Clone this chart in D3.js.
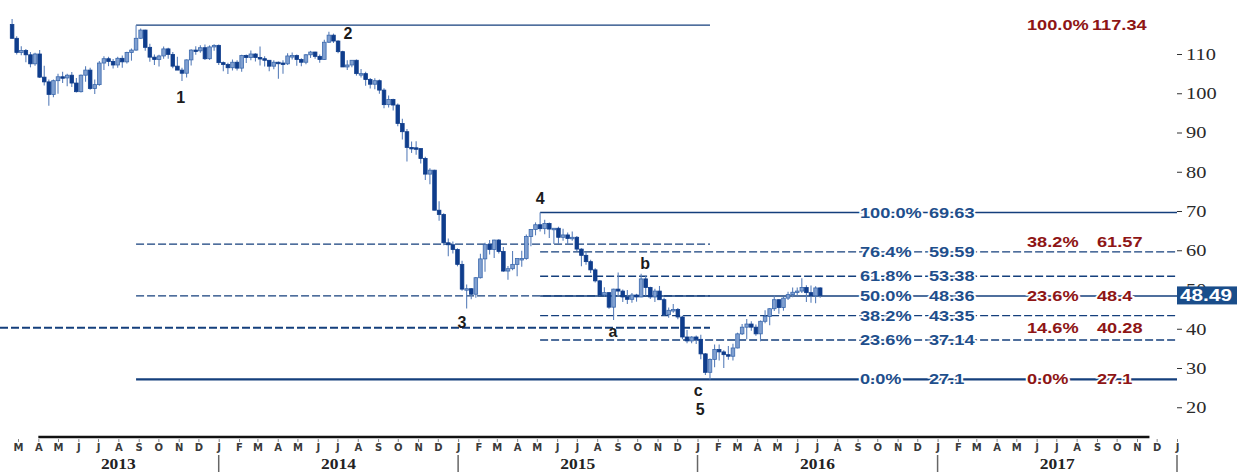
<!DOCTYPE html>
<html>
<head>
<meta charset="utf-8">
<script src="https://cdn.jsdelivr.net/npm/d3@7"></script>
<style>
  html, body { margin: 0; padding: 0; background: #fff; }
  svg { display: block; }
</style>
</head>
<body>
<div id="chart"></div>
<script>
// weekly candles, each block starts on the Monday given
const firstWeek2013 = "2013-02-18";
const open2013 = [117.5,114.0,110.4,110.9,109.8,107.5,110.0,104.1,102.9,99.7, 103.2,104.2,103.9,104.6,102.6,100.4,104.6,105.9,101.2,102.2,
  107.7,108.8,108.1,107.2,108.9,108.0,110.4,111.0,114.0,116.1, 111.7,109.2,108.6,109.5,111.3,109.9,106.9,105.9,105.1,108.5, 111.0,110.8,111.6,108.8,111.8,112.2];
const high2013 = [118.9,114.5,112.0,111.3,110.5,110.3,111.0,107.0,103.5,103.5, 105.0,105.5,105.0,105.4,103.9,104.8,106.9,106.5,103.5,108.2,
  109.4,109.3,108.7,109.3,109.6,110.6,111.4,117.34,116.5,116.2, 112.6,109.9,109.8,111.9,111.6,110.5,109.3,106.5,108.6,111.2, 112.0,112.2,112.4,112.2,112.5,112.4];
const low2013 = [113.9,109.9,109.7,107.9,106.6,107.0,103.9,102.0,96.8,99.0, 99.9,102.6,101.8,101.6,100.2,100.2,102.9,100.9,99.8,101.9,
  105.9,106.9,106.3,106.5,106.5,107.6,108.3,110.8,113.9,110.8, 108.0,107.2,106.8,108.8,108.8,106.4,105.9,103.1,104.0,107.1, 109.8,110.3,108.5,108.5,110.8,107.2];
const close2013 = [114.0,110.4,110.9,109.8,107.5,110.0,104.1,102.9,99.7,103.2, 104.2,103.9,104.6,102.6,100.4,104.6,105.9,101.2,102.2,107.7,
  108.8,108.1,107.2,108.9,108.0,110.4,111.0,114.0,116.1,111.7, 109.2,108.6,109.5,111.3,109.9,106.9,105.9,105.1,108.5,111.0, 110.8,111.6,108.8,111.8,112.2,107.8];

const firstWeek2014 = "2014-01-06";
const open2014 = [107.8,107.3,106.5,107.9,106.4,109.6,109.1,110.0,109.1,108.8, 108.4,106.9,107.9,107.7,107.5,109.5,109.6,108.6,107.9,109.8,
  110.5,109.4,108.6,113.0,114.8,113.3,110.6,106.7,107.2,108.4, 105.0,105.0,103.5,102.3,103.2,100.8,97.1,98.4,97.0,92.3,
  90.2,86.2,86.1,85.9,83.4,79.4,80.4,70.2,69.1,61.9, 61.4,60.2];
const high2014 = [108.1,107.8,108.6,108.4,109.8,109.9,110.9,110.2,111.9,109.4, 108.5,108.4,108.1,108.4,110.2,110.4,109.9,108.9,110.0,110.8,
  110.6,109.9,113.6,115.7,115.2,113.5,110.8,108.4,108.4,108.6, 106.2,105.5,103.9,103.8,103.5,101.3,99.4,98.6,97.4,93.5,
  90.9,87.7,87.8,86.0,83.8,80.9,80.5,72.5,69.4,63.0, 62.2,60.5];
const low2014 = [105.6,104.9,105.8,105.8,105.5,107.7,108.4,108.1,107.1,106.8, 105.6,106.1,103.7,105.0,107.2,108.6,107.0,106.9,107.4,109.0,
  108.8,107.8,108.5,112.8,112.8,110.2,106.7,105.9,106.6,104.5, 104.0,101.9,101.2,101.0,99.9,96.2,96.4,95.6,91.6,88.2,
  82.6,84.8,84.3,82.1,77.9,76.8,70.2,67.5,61.3,58.5, 59.2,55.9];
const close2014 = [107.3,106.5,107.9,106.4,109.6,109.1,110.0,109.1,108.8,108.4, 106.9,107.9,107.7,107.5,109.5,109.6,108.6,107.9,109.8,110.5,
  109.4,108.6,113.0,114.8,113.3,110.6,106.7,107.2,108.4,105.0, 105.0,103.5,102.3,103.2,100.8,97.1,98.4,97.0,92.3,90.2,
  86.2,86.1,85.9,83.4,79.4,80.4,70.2,69.1,61.9,61.4, 60.2,56.4];

const firstWeek2015 = "2015-01-05";
const open2015 = [56.4,50.1,50.2,48.8,53.0,57.8,61.5,60.2,62.6,59.7, 54.7,55.3,56.4,57.9,57.9,63.5,65.3,66.5,65.5,66.8,
  65.4,65.6,63.3,63.9,63.0,63.3,60.3,58.7,57.1,55.0, 52.2,48.6,49.2,45.5,50.1,49.6,48.1,47.5,48.6,48.1,
  52.7,50.5,48.1,49.6,47.4,43.6,44.7,44.9,43.0,37.9, 36.9,37.9];
const high2015 = [57.3,51.3,50.4,53.2,59.1,61.9,62.6,62.7,62.8,60.8, 56.0,59.8,57.9,59.9,64.0,65.4,67.1,69.63,67.8,67.1,
  65.7,66.0,65.5,64.5,64.8,63.6,60.5,59.6,57.6,55.4, 52.4,50.6,49.3,50.2,54.3,50.0,49.9,49.1,48.9,54.0,
  53.5,50.7,50.2,50.9,47.9,45.4,46.3,45.3,43.3,39.7, 38.1,38.3];
const low2015 = [49.7,45.19,47.5,47.9,52.8,54.5,58.9,58.0,59.2,54.5, 52.5,54.9,53.4,55.8,57.6,61.0,63.8,64.8,64.1,63.1,
  61.6,61.6,62.4,61.5,62.4,59.8,55.9,56.3,54.2,51.8, 48.4,48.2,45.1,42.23,48.4,46.8,46.3,46.6,46.9,48.0,
  48.4,47.6,46.8,47.4,43.4,42.8,44.1,42.4,37.3,36.3, 36.3,36.1];
const close2015 = [50.1,50.2,48.8,53.0,57.8,61.5,60.2,62.6,59.7,54.7, 55.3,56.4,57.9,57.9,63.5,65.3,66.5,65.5,66.8,65.4,
  65.6,63.3,63.9,63.0,63.3,60.3,58.7,57.1,55.0,52.2, 48.6,49.2,45.5,50.1,49.6,48.1,47.5,48.6,48.1,52.7,
  50.5,48.1,49.6,47.4,43.6,44.7,44.9,43.0,37.9,36.9, 37.9,37.3];

const firstWeek2016 = "2016-01-04";
const open2016 = [37.3,33.6,28.9,32.2,34.7,34.1,33.4,33.0,35.1,38.7, 40.4,41.2,40.4,38.7,41.9,43.1,45.1,47.4,45.4,47.8,
  48.7,49.3,49.6,50.5,49.2,48.4,50.4];
const high2016 = [38.5,33.8,32.4,36.0,36.0,34.5,35.6,36.2,39.0,41.2, 42.5,41.9,41.1,42.1,44.7,45.2,48.5,47.5,48.1,49.4,
  50.5,50.5,52.86,51.1,51.0,50.8,50.6];
const low2016 = [32.2,28.2,27.1,30.2,31.9,30.0,32.1,31.9,35.0,38.4, 37.3,39.5,38.2,36.8,41.4,40.9,44.5,43.8,44.6,47.3,
  48.0,48.4,49.1,46.8,46.6,46.5,47.9];
const close2016 = [33.6,28.9,32.2,34.7,34.1,33.4,33.0,35.1,38.7,40.4, 41.2,40.4,38.7,41.9,43.1,45.1,47.4,45.4,47.8,48.7,
  49.3,49.6,50.5,49.2,48.4,50.4,48.49];

const lastPrice = 48.49;

// fibonacci retracement of the whole fall (117.34 -> 27.1)
const fibLongPct = ["100.0%", "38.2%", "23.6%", "14.6%", "0.0%"];
const fibLongValues = [117.34, 61.57, 48.4, 40.28, 27.1];
const fibLongFrom = "2013-08-28";
const fibLongTo = "2016-01-20";

// fibonacci retracement of the last leg (69.63 -> 27.1)
const fibShortPct = ["100.0%", "76.4%", "61.8%", "50.0%", "38.2%", "23.6%", "0.0%"];
const fibShortValues = [69.63, 59.59, 53.38, 48.36, 43.35, 37.14, 27.1];
const fibShortFrom = "2015-05-06";

// elliott wave labels
const waveLabels = ["1", "2", "3", "4", "5", "a", "b", "c"];
const waveDates = ["2013-11-04", "2014-07-17", "2015-01-07", "2015-05-06", "2016-01-05", "2015-08-25", "2015-10-13", "2016-01-02"];
const waveValues = [99.0, 115.3, 41.6, 73.3, 19.4, 39.3, 56.8, 24.4];

const yTicks = [20, 30, 40, 50, 60, 70, 80, 90, 100, 110];
const monthLetters = ["J", "F", "M", "A", "M", "J", "J", "A", "S", "O", "N", "D"];
const years = [2013, 2014, 2015, 2016, 2017];

const width = 1240, height = 473;
const parse = d3.timeParse("%Y-%m-%d");

const x = d3.scaleTime()
  .domain([new Date(2013, 2, 1), new Date(2018, 0, 1)])
  .range([18, 1177]);
const y = d3.scaleLinear()
  .domain([20, 120])
  .range([407.25, 14.75]);
const xRight = x.range()[1];

function weeks(start, o, h, l, c) {
  const t0 = parse(start);
  return o.map((v, i) => ({
    date: d3.timeDay.offset(t0, i * 7 + 2),
    open: v, high: h[i], low: l[i], close: c[i]
  }));
}

const candles = [
  ...weeks(firstWeek2013, open2013, high2013, low2013, close2013),
  ...weeks(firstWeek2014, open2014, high2014, low2014, close2014),
  ...weeks(firstWeek2015, open2015, high2015, low2015, close2015),
  ...weeks(firstWeek2016, open2016, high2016, low2016, close2016)
];

const svg = d3.select("#chart").append("svg")
  .attr("width", width)
  .attr("height", height)
  .style("font-family", "'Liberation Sans', Arial, sans-serif");

const lineColor = "#143f7c";
const blueText = "#1f4f8c";
const redText = "#8e1515";

// ---- fib lines ----
const gLines = svg.append("g");

function levelLine(x1, x2, v, dashed, w) {
  gLines.append("line")
    .attr("x1", x1).attr("x2", x2)
    .attr("y1", y(v)).attr("y2", y(v))
    .attr("stroke", lineColor)
    .attr("stroke-width", w)
    .attr("stroke-dasharray", dashed ? "8,3" : null);
}

fibLongValues.forEach((v, i) => {
  const pct = fibLongPct[i];
  if (pct === "0.0%") return; // drawn with the short set, full width
  const x1 = pct === "14.6%" ? 0 : x(parse(fibLongFrom));
  const dashed = pct !== "100.0%";
  levelLine(x1, x(parse(fibLongTo)), v, dashed, pct === "14.6%" ? 2 : 1.3);
});

fibShortValues.forEach((v, i) => {
  const pct = fibShortPct[i];
  const solid = pct === "100.0%" || pct === "50.0%" || pct === "0.0%";
  const x1 = pct === "0.0%" ? x(parse(fibLongFrom)) : x(parse(fibShortFrom));
  levelLine(x1, xRight, v, !solid, pct === "0.0%" ? 2.4 : 1.4);
});

// ---- candles ----
const bodyW = 3.6;
const gCandles = svg.append("g");
const c = gCandles.selectAll("g").data(candles).join("g")
  .attr("transform", d => `translate(${x(d.date)},0)`);
c.append("line")
  .attr("y1", d => y(d.high))
  .attr("y2", d => y(d.low))
  .attr("stroke", "#5b80bb")
  .attr("stroke-width", 1.1);
c.append("rect")
  .attr("x", -bodyW / 2)
  .attr("width", bodyW)
  .attr("y", d => y(Math.max(d.open, d.close)))
  .attr("height", d => Math.max(1.5, Math.abs(y(d.open) - y(d.close))))
  .attr("fill", d => d.close >= d.open ? "#7f9fd0" : "#0f3d8c")
  .attr("stroke", d => d.close >= d.open ? "#3a68ad" : "#0f3d8c")
  .attr("stroke-width", 0.8);

// ---- fib labels ----
function label(g, tx, v, str, color, size, sx) {
  g.append("text")
    .attr("transform", `translate(${tx},${y(v)}) scale(${sx},1)`)
    .attr("dy", "0.36em")
    .attr("fill", color)
    .attr("font-size", size)
    .attr("font-weight", "bold")
    .attr("stroke", "#fff")
    .attr("stroke-width", 3)
    .attr("paint-order", "stroke")
    .text(str);
}

const gLabels = svg.append("g");
fibShortValues.forEach((v, i) => {
  label(gLabels, 860, v, fibShortPct[i], blueText, 14, 1.3);
  label(gLabels, 929, v, String(v), blueText, 14, 1.3);
});
fibLongValues.forEach((v, i) => {
  const ly = fibLongPct[i] === "38.2%" ? v + 0.5 : v;
  label(gLabels, 1027, ly, fibLongPct[i], redText, 14, 1.3);
  label(gLabels, fibLongPct[i] === "100.0%" ? 1092 : 1097, ly, String(v), redText, 14, 1.3);
});

// ---- wave labels ----
svg.append("g").selectAll("text").data(waveLabels).join("text")
  .attr("x", (d, i) => x(parse(waveDates[i])))
  .attr("y", (d, i) => y(waveValues[i]))
  .attr("dy", "0.36em")
  .attr("text-anchor", "middle")
  .attr("font-size", 16)
  .attr("font-weight", "bold")
  .attr("fill", "#1b1b1b")
  .text(d => d);

// ---- y axis ----
const yAxis = svg.append("g")
  .attr("transform", `translate(${xRight},0)`)
  .call(d3.axisRight(y).tickValues(yTicks).tickSize(5).tickFormat(d3.format("d")));
yAxis.select(".domain").remove();
yAxis.selectAll(".tick line").attr("stroke", "#333");
yAxis.selectAll(".tick text")
  .attr("x", null)
  .attr("transform", "translate(9,0) scale(1.2,1)")
  .attr("fill", "#2a2a2a")
  .style("font-family", "'Liberation Serif', 'Times New Roman', serif")
  .style("font-size", "17px");

// last price box
const boxH = 18;
svg.append("rect")
  .attr("x", xRight)
  .attr("y", y(lastPrice) - boxH / 2)
  .attr("width", 60)
  .attr("height", boxH)
  .attr("fill", "#1a4d8a");
svg.append("text")
  .attr("transform", `translate(${xRight + 3},${y(lastPrice)}) scale(1.3,1)`)
  .attr("dy", "0.36em")
  .attr("fill", "#fff")
  .attr("font-size", 16)
  .attr("font-weight", "bold")
  .text(lastPrice.toFixed(2));

// ---- x axis ----
const axisY = 438;
svg.append("line")
  .attr("x1", x(new Date(2013, 3, 1)))
  .attr("x2", x(new Date(2017, 10, 20)))
  .attr("y1", axisY - 1).attr("y2", axisY - 1)
  .attr("stroke", "#111")
  .attr("stroke-width", 2.5);

const xAxis = svg.append("g")
  .attr("transform", `translate(0,${axisY + 1})`)
  .call(d3.axisBottom(x)
    .ticks(d3.timeMonth.every(1))
    .tickSize(3)
    .tickPadding(2)
    .tickFormat(d => monthLetters[d.getMonth()]));
xAxis.select(".domain").remove();
xAxis.selectAll(".tick line").attr("stroke", "#888");
xAxis.selectAll(".tick text")
  .attr("fill", "#3a3a3a")
  .style("font-family", "'DejaVu Sans', Verdana, sans-serif")
  .style("font-size", "10px")
  .style("font-weight", "bold");

// year separators and labels
const gYears = svg.append("g");
years.forEach(yr => {
  const a = Math.max(x(new Date(yr, 0, 1)), x.range()[0]);
  const b = x(new Date(yr + 1, 0, 1));
  gYears.append("line")
    .attr("x1", b).attr("x2", b)
    .attr("y1", 455).attr("y2", 472)
    .attr("stroke", "#666")
    .attr("stroke-width", 1.5);
  gYears.append("text")
    .attr("transform", `translate(${(a + b) / 2},464) scale(1.25,1)`)
    .attr("dy", "0.35em")
    .attr("text-anchor", "middle")
    .attr("font-size", 14)
    .attr("font-weight", "bold")
    .attr("fill", "#222")
    .style("font-family", "'Liberation Serif', 'Times New Roman', serif")
    .text(yr);
});
</script>
</body>
</html>
